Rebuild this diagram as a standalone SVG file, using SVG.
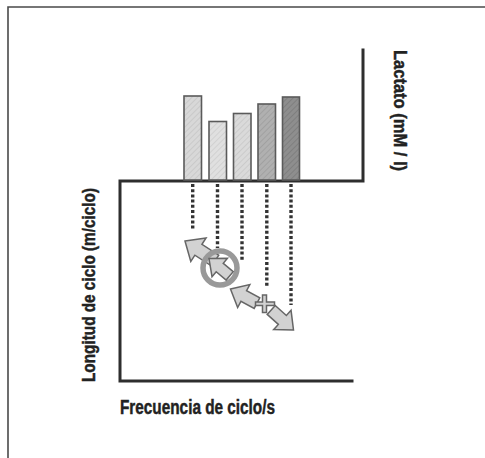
<svg xmlns="http://www.w3.org/2000/svg" width="485" height="458" viewBox="0 0 485 458">
<style>
.frame{stroke:#4a4a4a;stroke-width:1.6;fill:none}
.axis{stroke:#2e2e2e;stroke-width:3;fill:none;stroke-linecap:square}
.bar{stroke:#5a5a5a;stroke-width:1.6}
.dot{stroke:#333;stroke-width:3.4;stroke-dasharray:3 2.2;fill:none}
.arrow{fill:#d2d2d2;stroke:#666;stroke-width:1.5;stroke-linejoin:miter}
.lbl{font-family:"Liberation Sans","DejaVu Sans",sans-serif;font-weight:bold;fill:#222;stroke:#222;stroke-width:0.45}
</style>
<defs>
<pattern id="h1" width="4" height="4" patternUnits="userSpaceOnUse" patternTransform="rotate(45)"><rect width="4" height="4" fill="#d8d8d8"/><line x1="0" y1="0" x2="0" y2="4" stroke="#c4c4c4" stroke-width="1.5"/></pattern>
<pattern id="h2" width="4" height="4" patternUnits="userSpaceOnUse" patternTransform="rotate(45)"><rect width="4" height="4" fill="#e0e0e0"/><line x1="0" y1="0" x2="0" y2="4" stroke="#cccccc" stroke-width="1.5"/></pattern>
<pattern id="h3" width="4" height="4" patternUnits="userSpaceOnUse" patternTransform="rotate(45)"><rect width="4" height="4" fill="#dadada"/><line x1="0" y1="0" x2="0" y2="4" stroke="#c6c6c6" stroke-width="1.5"/></pattern>
<pattern id="h4" width="4" height="4" patternUnits="userSpaceOnUse" patternTransform="rotate(45)"><rect width="4" height="4" fill="#b0b0b0"/><line x1="0" y1="0" x2="0" y2="4" stroke="#9c9c9c" stroke-width="1.5"/></pattern>
<pattern id="h5" width="4" height="4" patternUnits="userSpaceOnUse" patternTransform="rotate(45)"><rect width="4" height="4" fill="#8e8e8e"/><line x1="0" y1="0" x2="0" y2="4" stroke="#7a7a7a" stroke-width="1.5"/></pattern>
</defs>

<g id="frame">
<path class="frame" d="M8,458 V7 H485"/>
</g>

<g id="axes">
<path class="axis" d="M363,50 V181 H120 V381 H352"/>
</g>

<g id="bars">
<rect id="bar1" class="bar" x="184" y="96" width="17.5" height="84" fill="url(#h1)"/>
<rect id="bar2" class="bar" x="209" y="121.5" width="17.5" height="58.5" fill="url(#h2)"/>
<rect id="bar3" class="bar" x="233.5" y="113.5" width="17.5" height="66.5" fill="url(#h3)"/>
<rect id="bar4" class="bar" x="258" y="104" width="17.5" height="76" fill="url(#h4)"/>
<rect id="bar5" class="bar" x="282.5" y="97" width="17" height="83" fill="url(#h5)"/>
</g>

<g id="connectors">
<line class="dot" x1="192.7" y1="184" x2="192.7" y2="230"/>
<line class="dot" x1="217.5" y1="184" x2="217.5" y2="248"/>
<line class="dot" x1="242" y1="184" x2="242" y2="262"/>
<line class="dot" x1="266.8" y1="184" x2="266.8" y2="288"/>
<line class="dot" x1="291" y1="184" x2="291" y2="305"/>
</g>

<g id="markers">
<g id="arrowA" transform="translate(185,241) rotate(33)"><polygon class="arrow" points="0,0 16,-14 16,-6.5 36,-6.5 36,6.5 16,6.5 16,14"/></g>
<g id="circle"><circle cx="220" cy="268" r="17" fill="none" stroke="#999" stroke-width="5.5"/></g>
<g id="arrowB" transform="translate(209,258.5) rotate(40)"><polygon class="arrow" points="0,0 14,-12 14,-5.5 27,-5.5 27,5.5 14,5.5 14,12"/></g>
<g id="arrowC" transform="translate(230.5,289) rotate(28)"><polygon class="arrow" points="0,0 15,-13 15,-6 30,-6 30,6 15,6 15,13"/></g>
<g id="plus"><path class="arrow" fill="#c4c4c4" d="M262.5,295 h4 v7 h8 v3.5 h-8 v7 h-4 v-7 h-7 v-3.5 h7 z"/></g>
<g id="arrowD" transform="translate(293.5,330) rotate(222)"><polygon class="arrow" points="0,0 15,-13 15,-6 30,-6 30,6 15,6 15,13"/></g>
</g>

<g id="labels">
<text class="lbl" font-size="18" transform="translate(394,50) rotate(90)" textLength="121" lengthAdjust="spacingAndGlyphs">Lactato (mM / l)</text>
<text class="lbl" font-size="18" transform="translate(94.5,382) rotate(-90)" textLength="194" lengthAdjust="spacingAndGlyphs">Longitud de ciclo (m/ciclo)</text>
<text class="lbl" font-size="19.5" x="120" y="413.5" textLength="155" lengthAdjust="spacingAndGlyphs">Frecuencia de ciclo/s</text>
</g>
</svg>
